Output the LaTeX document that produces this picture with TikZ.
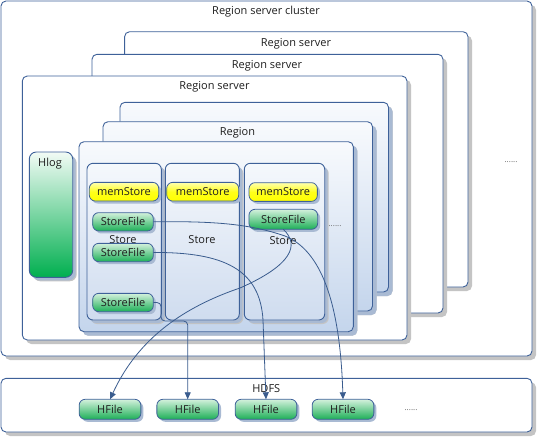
\documentclass[tikz,border=0pt]{standalone}
\usepackage{fontspec}
\setmainfont{Open Sans}
\usetikzlibrary{arrows.meta,shadows}
\definecolor{bord}{HTML}{3E6199}
\definecolor{conn}{HTML}{3A5C8E}
\definecolor{shgray}{HTML}{C4C4C4}
\definecolor{shblue}{HTML}{A9BAD3}
\definecolor{regtop}{HTML}{F8FAFD}
\definecolor{regbot}{HTML}{C4D5EC}
\definecolor{sttop}{HTML}{F5F8FC}
\definecolor{stbot}{HTML}{CFDCEF}
\definecolor{grtop}{HTML}{D3F1DC}
\definecolor{grbot}{HTML}{1DAF57}
\definecolor{hltop}{HTML}{F2FBF5}
\definecolor{hlbot}{HTML}{00AF4F}
\definecolor{yetop}{HTML}{FFFFB0}
\definecolor{yebot}{HTML}{FFFF00}
\definecolor{txt}{HTML}{1E1E1E}
\begin{document}
\begin{tikzpicture}[x=1pt,y=-1pt,
  every node/.style={inner sep=0pt,outer sep=0pt,text=txt,font=\fontsize{11}{13}\selectfont},
  frame/.style={draw=bord,line width=0.9pt,rounded corners=5pt,anchor=north west,fill=white,
    drop shadow={shadow xshift=4pt,shadow yshift=-4pt,fill=shgray,opacity=1}},
  regbox/.style={frame,top color=regtop,bottom color=regbot,
    drop shadow={shadow xshift=4pt,shadow yshift=-4pt,fill=shblue,opacity=1}},
  storebox/.style={frame,rounded corners=6pt,top color=sttop,bottom color=stbot,
    drop shadow={shadow xshift=3pt,shadow yshift=-3pt,fill=shblue,opacity=1}},
  pill/.style={draw=bord,line width=0.8pt,rounded corners=6pt,
    drop shadow={shadow xshift=2.5pt,shadow yshift=-2.5pt,fill=shblue,opacity=1}},
  mem/.style={pill,top color=yetop,bottom color=yebot,middle color=yebot!85!yetop,minimum height=18.7pt},
  sfile/.style={pill,top color=grtop,bottom color=grbot,minimum width=60.6pt,minimum height=18.3pt},
  hfile/.style={pill,top color=grtop,bottom color=grbot,minimum width=61.7pt,minimum height=20pt},
  dots/.style={text=gray!80!black,font=\fontsize{8}{9}\selectfont},
  conn/.style={draw=conn,line width=0.8pt,-{Triangle[length=7pt,width=6pt]}}
]
\useasboundingbox (0,0) rectangle (538,437);
% cluster
\node[frame,minimum width=531pt,minimum height=355pt] (cluster) at (1,1) {};
\node (tcluster) at (266,11.7) {Region server cluster};
\node[dots] (dotsrs) at (511,162) {......};
% region servers
\node[frame,minimum width=343.4pt,minimum height=255.3pt] (rs3) at (124.6,31.7) {};
\node (trs3) at (296,43.3) {Region server};
\node[frame,minimum width=351pt,minimum height=258.7pt] (rs2) at (92,54.3) {};
\node (trs2) at (267,65.7) {Region server};
\node[frame,minimum width=384.7pt,minimum height=264pt] (rs1) at (22.3,76) {};
\node (trs1) at (214.5,86.7) {Region server};
% regions
\node[regbox,minimum width=268.5pt,minimum height=189.7pt] (reg3) at (120,102.3) {};
\node[regbox,minimum width=269.5pt,minimum height=189.3pt] (reg2) at (103,121.7) {};
\node (treg2) at (237.5,132.7) {Region};
\node[regbox,minimum width=274.3pt,minimum height=190pt] (reg1) at (79,141.7) {};
% hlog
\node[frame,rounded corners=7pt,top color=hltop,bottom color=hlbot,minimum width=43.4pt,minimum height=125.3pt,
  drop shadow={shadow xshift=3pt,shadow yshift=-3pt,fill=shblue,opacity=1}] (hlog) at (29.3,152) {};
\node (thlog) at (50,163.3) {Hlog};
% stores
\node[storebox,minimum width=74.3pt,minimum height=156.7pt] (st1) at (87,163.3) {};
\node[storebox,minimum width=74pt,minimum height=156.7pt] (st2) at (165.3,163.3) {};
\node[storebox,minimum width=80.4pt,minimum height=156.7pt] (st3) at (244.3,163.3) {};
\node (tst1) at (123,240) {Store};
\node (tst2) at (202,240) {Store};
\node (tst3) at (283,240.7) {Store};
\node[dots] (dotsst) at (335,225.7) {......};
% memstores
\node[mem,minimum width=69.4pt] (ms1) at (124,191.7) {memStore};
\node[mem,minimum width=72pt] (ms2) at (202.7,191.7) {memStore};
\node[mem,minimum width=68.3pt] (ms3) at (283.2,192) {memStore};
% storefiles
\node[sfile] (sf1a) at (123,221.8) {StoreFile};
\node[sfile] (sf1b) at (123,252.5) {StoreFile};
\node[sfile] (sf1c) at (123,302.5) {StoreFile};
\node[sfile,minimum width=68.7pt,minimum height=20pt] (sf3) at (283.3,219.3) {StoreFile};
% hdfs
\node[frame,minimum width=531pt,minimum height=53.7pt] (hdfs) at (1,378.3) {};
\node (thdfs) at (266.3,389) {HDFS};
\node[hfile] (hf1) at (110,409.3) {HFile};
\node[hfile] (hf2) at (187.7,409.3) {HFile};
\node[hfile] (hf3) at (266,409.3) {HFile};
\node[hfile] (hf4) at (343,409.3) {HFile};
\node[dots] (dotshf) at (411,409.7) {......};
% connectors
\coordinate (c3a) at (161,321);
\draw[conn] (sf1a.east) .. controls (215,221) and (250,224) .. (285,236)
  .. controls (320,250) and (340,300) .. (hf4.north);
\draw[conn] (sf1b.east) .. controls (225,252) and (260,270) .. (263,320) -- (hf3.north);
\draw[conn,rounded corners=4pt] (sf1c.east) -| (c3a) -| (hf2.north);
\draw[conn] (sf3.south) .. controls (300,245) and (292,265) .. (240,288)
  .. controls (175,310) and (135,345) .. (hf1.north);
\end{tikzpicture}
\end{document}
